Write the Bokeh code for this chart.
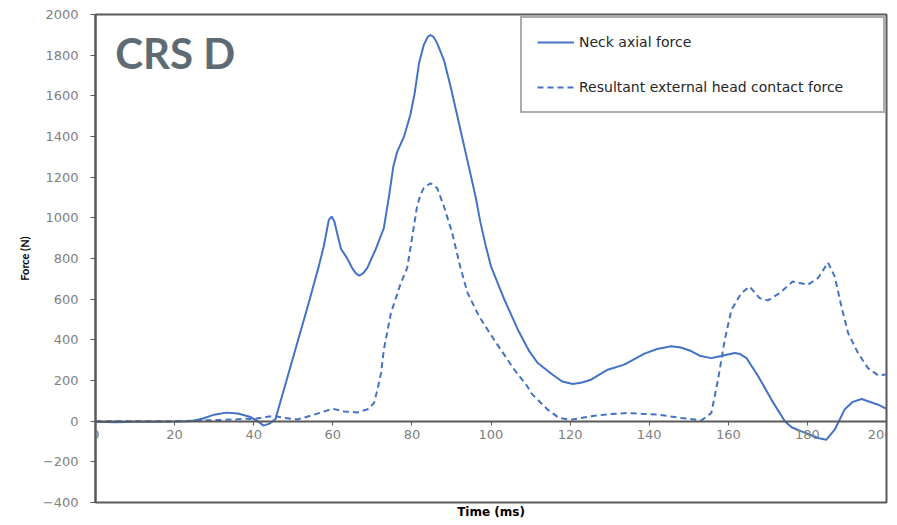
from bokeh.plotting import figure
from bokeh.models import LinearAxis, FixedTicker, Title, Label, Legend, LegendItem, Range1d
from bokeh.embed import file_html
from bokeh.resources import INLINE

# Neck axial force (N) vs time (ms)
neck_t = [0, 5, 10, 15, 20, 24, 27, 30, 33, 36, 39, 41, 42.5, 44, 45.5, 49.4, 53.6, 56.5, 57.7,
          59.0, 59.7, 60.4, 61.3, 62.1, 63.6, 64.9, 65.8, 66.7, 67.7, 68.7, 70.8, 72.9, 74.2,
          75.3, 76.3, 78.0, 79.6, 80.7, 81.8, 83.0, 84.0, 84.7, 85.5, 86.4, 88.1, 89.8, 91.9,
          94.0, 96.1, 97.3, 98.7, 100, 103.4, 106.8, 109.7, 111.8, 115.6, 118,
          120.7, 123, 125.3, 129.5, 133.7, 138.8, 142, 145.6, 148, 150.6, 153, 155.7, 158.2, 161.6,
          163, 164.6, 167.6, 170.9, 174.3, 176, 178.5, 182.7, 184.8, 186.9, 189.4, 191.5, 193.7,
          197.9, 200]
neck_f = [-3, -5, -3, -3, -2, 0, 12, 32, 42, 38, 22, 0, -22, -12, 10, 275, 560, 765, 859,
          990, 1006, 982, 908, 846, 802, 753, 728, 715, 728, 753, 843, 949, 1105,
          1252, 1326, 1399, 1506, 1613, 1760, 1850, 1890, 1899, 1890, 1858, 1776, 1645, 1465,
          1285, 1105, 980, 860, 761, 597, 450, 343, 286, 228, 195,
          183, 190, 204, 253, 278, 332, 355, 368, 362, 345, 320, 310, 320, 335,
          330, 310, 220, 106, 0, -30, -50, -83, -91, -42, 57, 95, 109,
          81, 60]

# Resultant external head contact force (N) vs time (ms)
head_t = [0, 10, 20, 30, 35, 38, 40, 43, 45, 48, 51, 55.3, 60, 62.9, 66.2, 69, 70.4, 71.3, 72.2,
          72.9, 74.7, 77.2, 78.8, 80.1, 81.3, 82.2, 83.0, 84.7, 86.4, 88.1, 90.2, 92.3, 94.1,
          97, 100.8, 105.9, 109.2, 110.1, 114.3, 117.2, 120.2, 125.3, 130, 134.6, 138, 142.2,
          148.1, 153.2, 155.7, 157.4, 159.1, 160.8, 163.3, 165.4, 167.9, 170, 173, 176.3, 178,
          180.1, 182.7, 185.2, 186.9, 188.6, 190.3, 192.8, 195.3, 197.9, 200]
head_f = [0, 0, 0, 5, 8, 12, 10, 20, 26, 15, 8, 32, 61, 48, 43, 60, 89, 155, 237,
          351, 532, 679, 753, 908, 1056, 1115, 1146, 1170, 1146, 1056, 925, 753, 630,
          515, 400, 253, 171, 139, 57, 16, 7, 24, 35, 40, 36, 32,
          16, 4, 40, 204, 400, 548, 630, 662, 605, 594, 630, 687, 680,
          671, 704, 780, 712, 564, 433, 335, 261, 225, 230]

x_ticks = list(range(0, 201, 20))
y_ticks = list(range(-400, 2001, 200))
series_names = ["Neck axial force", "Resultant external head contact force"]
panel_title = "CRS D"
x_title = "Time (ms)"
y_title = "Force (N)"

FONT = "DejaVu Sans"
TFONT = "Lato"
BLUE = "#4472C4"
AXIS = "#595959"
TICKTXT = "#7f7f7f"

p = figure(width=892, height=522, output_backend="svg", toolbar_location=None,
           x_range=Range1d(0, 200), y_range=Range1d(-400, 2000),
           x_axis_location=None, y_axis_location=None,
           min_border_left=95, min_border_right=6, min_border_top=14, min_border_bottom=20)
p.xgrid.visible = False
p.ygrid.visible = False
p.outline_line_color = AXIS
p.outline_line_width = 2
p.background_fill_color = "white"
p.border_fill_color = "white"

# y axis
ya = LinearAxis(ticker=FixedTicker(ticks=y_ticks), axis_label=y_title)
ya.axis_line_color = AXIS
ya.axis_line_width = 2
ya.major_tick_line_color = AXIS
ya.major_tick_in = 0
ya.major_tick_out = 5
ya.minor_tick_line_color = None
ya.major_label_text_font = FONT
ya.major_label_text_font_size = "13px"
ya.major_label_text_color = TICKTXT
ya.major_label_standoff = 12
ya.axis_label_text_font = TFONT
ya.axis_label_text_font_size = "11px"
ya.axis_label_text_font_style = "bold"
ya.axis_label_text_color = "black"
ya.axis_label_standoff = 9
p.add_layout(ya, "left")

# x axis crossing at y = 0
xa = LinearAxis(ticker=FixedTicker(ticks=x_ticks), fixed_location=0)
xa.axis_line_color = AXIS
xa.axis_line_width = 2
xa.major_tick_line_color = AXIS
xa.major_tick_in = 0
xa.major_tick_out = 4
xa.minor_tick_line_color = None
xa.major_label_text_font = FONT
xa.major_label_text_font_size = "13px"
xa.major_label_text_color = TICKTXT
xa.major_label_standoff = 5
p.add_layout(xa, "below")

p.add_layout(Title(text=x_title, align="center", text_font=FONT, text_font_size="12px",
                   text_font_style="bold", text_color="black", standoff=0), "below")

r1 = p.line(neck_t, neck_f, line_color=BLUE, line_width=2)
r2 = p.line(head_t, head_f, line_color=BLUE, line_width=2, line_dash="6 4")

legend = Legend(items=[LegendItem(label=series_names[0], renderers=[r1]),
                       LegendItem(label=series_names[1], renderers=[r2])],
                location=(425, 389), orientation="vertical",
                border_line_color=AXIS, border_line_width=2,
                padding=15, spacing=27, label_height=18, glyph_height=18,
                glyph_width=37, label_standoff=5, label_width=289, margin=0,
                label_text_font=FONT, label_text_font_size="14px", label_text_color="#262626",
                background_fill_color="white", background_fill_alpha=1)
p.add_layout(legend, "center")

p.add_layout(Label(x=5, y=1811, text=panel_title, text_font=TFONT, text_font_size="42px",
                   text_font_style="bold", text_color="#5f6b73", text_baseline="middle"))

open("out.html", "w").write(file_html(p, INLINE))
